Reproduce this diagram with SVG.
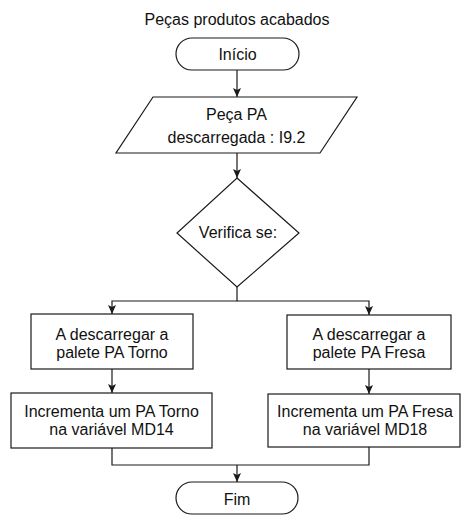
<svg xmlns="http://www.w3.org/2000/svg" width="461" height="515" viewBox="0 0 461 515">
  <style>
    .shape { fill: #ffffff; stroke: #1a1a1a; stroke-width: 1.2; }
    .edge { fill: none; stroke: #1a1a1a; stroke-width: 1.2; }
    text { font-family: "Liberation Sans", Arial, Helvetica, sans-serif; font-size: 16px; fill: #111111; text-anchor: middle; }
  </style>
  <defs>
    <marker id="arrow" markerWidth="10" markerHeight="10" refX="9" refY="4" orient="auto" markerUnits="userSpaceOnUse">
      <path d="M0,0 L9,4 L0,8 L2,4 z" fill="#1a1a1a"/>
    </marker>
  </defs>

  <rect width="461" height="515" fill="#ffffff"/>

  <!-- connectors -->
  <g id="connectors">
    <path class="edge" d="M237,70 V97" marker-end="url(#arrow)"/>
    <path class="edge" d="M237,153 V178" marker-end="url(#arrow)"/>
    <path class="edge" d="M237,287 V301 H112 V314" marker-end="url(#arrow)"/>
    <path class="edge" d="M237,301 H369 V315" marker-end="url(#arrow)"/>
    <path class="edge" d="M112,369 V393" marker-end="url(#arrow)"/>
    <path class="edge" d="M369,369 V394" marker-end="url(#arrow)"/>
    <path class="edge" d="M112,448 V465 H369 V447"/>
    <path class="edge" d="M237,465 V482" marker-end="url(#arrow)"/>
  </g>

  <!-- title -->
  <g id="title">
    <text x="237" y="25">Peças produtos acabados</text>
  </g>

  <!-- start terminator -->
  <g id="inicio">
    <rect class="shape" x="176" y="38" width="123" height="32" rx="16" ry="16"/>
    <text x="237.5" y="60">Início</text>
  </g>

  <!-- input: piece unloaded -->
  <g id="peca-descarregada">
    <polygon class="shape" points="153,97 357,97 320,153 116,153"/>
    <text x="236.5" y="120">Peça PA</text>
    <text x="236.5" y="143">descarregada : I9.2</text>
  </g>

  <!-- decision -->
  <g id="verifica">
    <polygon class="shape" points="237,178 299,233 237,287 177,233"/>
    <text x="238" y="238">Verifica se:</text>
  </g>

  <!-- left branch -->
  <g id="descarregar-torno">
    <rect class="shape" x="31" y="314" width="162" height="55"/>
    <text x="112" y="340">A descarregar a</text>
    <text x="112" y="358">palete PA Torno</text>
  </g>
  <g id="incrementa-torno">
    <rect class="shape" x="11" y="393" width="201" height="55"/>
    <text x="111.5" y="417">Incrementa um PA Torno</text>
    <text x="111.5" y="435">na variável MD14</text>
  </g>

  <!-- right branch -->
  <g id="descarregar-fresa">
    <rect class="shape" x="287" y="315" width="164" height="54"/>
    <text x="369" y="340">A descarregar a</text>
    <text x="369" y="358">palete PA Fresa</text>
  </g>
  <g id="incrementa-fresa">
    <rect class="shape" x="268" y="394" width="192" height="53"/>
    <text x="365" y="417">Incrementa um PA Fresa</text>
    <text x="365" y="435">na variável MD18</text>
  </g>

  <!-- end terminator -->
  <g id="fim">
    <rect class="shape" x="176" y="482" width="122" height="32" rx="16" ry="16"/>
    <text x="237" y="505">Fim</text>
  </g>
</svg>
